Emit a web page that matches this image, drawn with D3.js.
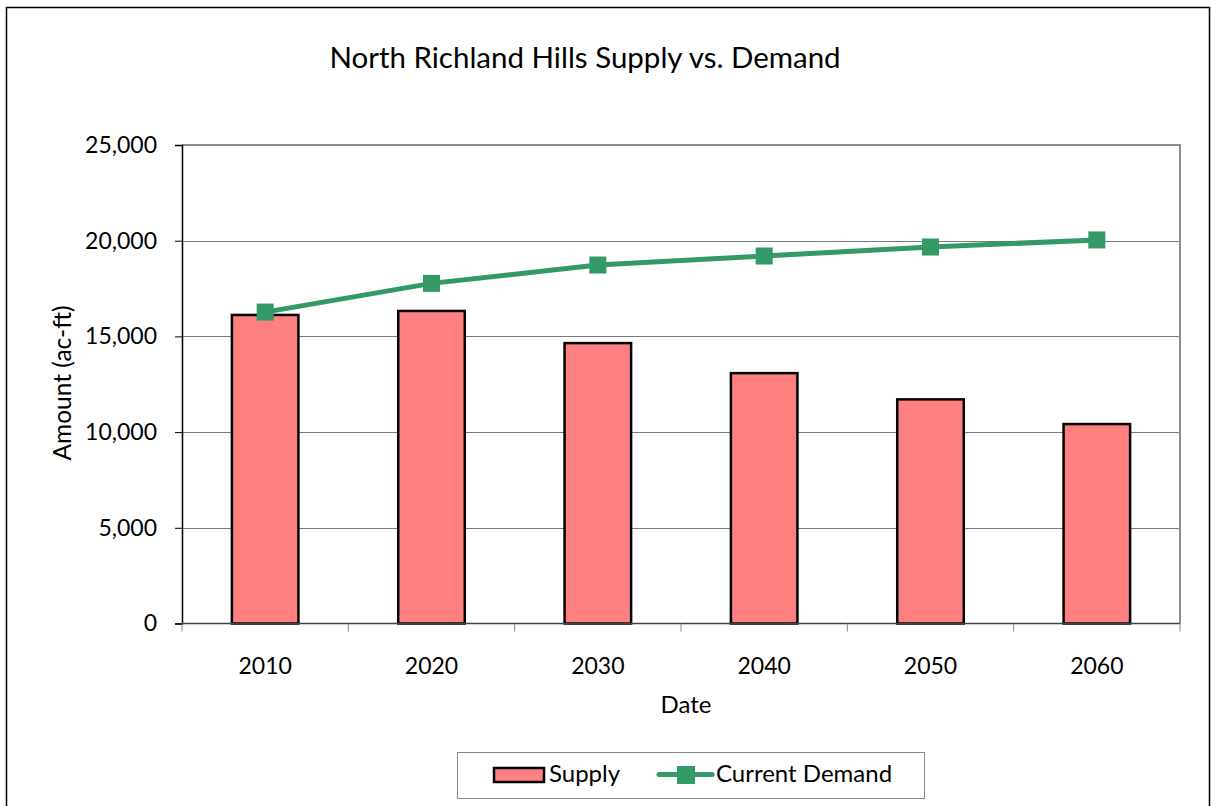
<!DOCTYPE html>
<html lang="en">
<head>
<meta charset="utf-8">
<style>
  body { margin: 0; background: #fff; }
  text { font-family: Lato, "Open Sans", sans-serif; fill: #000; }
</style>
</head>
<body>
<svg width="1211" height="806"></svg>
<script src="https://d3js.org/d3.v7.min.js"></script>
<script>
// values
var years = ["2010", "2020", "2030", "2040", "2050", "2060"];
var supply = [16120, 16330, 14650, 13080, 11710, 10420];
var demand = [16270, 17770, 18730, 19200, 19670, 20040];
var yTicks = [0, 5000, 10000, 15000, 20000, 25000];

var svg = d3.select("svg");
var margin = {left: 182, right: 1180, top: 145, bottom: 623.5};

// outer frame
svg.append("rect")
    .attr("x", 6.5).attr("y", 7.5)
    .attr("width", 1203).attr("height", 810)
    .attr("fill", "#fff").attr("stroke", "#000").attr("stroke-width", 1.5);

var x = d3.scaleBand().domain(years).range([margin.left, margin.right]).paddingInner(0).paddingOuter(0);
var y = d3.scaleLinear().domain([0, 25000]).range([margin.bottom, margin.top]);

// gridlines
svg.append("g").selectAll("line")
    .data(yTicks.slice(1, -1))
    .enter().append("line")
    .attr("x1", margin.left).attr("x2", margin.right)
    .attr("y1", function (d) { return Math.round(y(d)) + 0.5; })
    .attr("y2", function (d) { return Math.round(y(d)) + 0.5; })
    .attr("stroke", "#7a7a7a").attr("stroke-width", 1);

// plot border top/right
svg.append("path")
    .attr("d", "M" + margin.left + "," + margin.top + "H" + margin.right + "V" + margin.bottom)
    .attr("fill", "none").attr("stroke", "#8c8c8c").attr("stroke-width", 2);

// y axis
var yAxis = d3.axisLeft(y).tickValues(yTicks).tickSize(7).tickPadding(18)
    .tickFormat(d3.format(","));
var gy = svg.append("g").attr("transform", "translate(" + margin.left + ",0)").call(yAxis);
gy.select(".domain").attr("stroke", "#000").attr("stroke-width", 1.5);
gy.selectAll(".tick line").attr("stroke", "#000");
gy.selectAll("text").style("font-size", "23px");

// bars
var bw = x.bandwidth() * 0.4;
svg.append("g").selectAll("rect")
    .data(supply)
    .enter().append("rect")
    .attr("x", function (d, i) { return x(years[i]) + x.bandwidth() / 2 - bw / 2; })
    .attr("y", function (d) { return y(d); })
    .attr("width", bw)
    .attr("height", function (d) { return y(0) - y(d); })
    .attr("fill", "#ff8080").attr("stroke", "#000").attr("stroke-width", 2.5);

// x axis
var xAxis = d3.axisBottom(x).tickSize(0).tickPadding(34);
var gx = svg.append("g").attr("transform", "translate(0," + margin.bottom + ")").call(xAxis);
gx.select(".domain").remove();
gx.selectAll("text").style("font-size", "23px");
svg.append("line")
    .attr("x1", margin.left).attr("x2", margin.right)
    .attr("y1", margin.bottom).attr("y2", margin.bottom)
    .attr("stroke", "#444").attr("stroke-width", 1.5);
svg.append("g").selectAll("line")
    .data(years.concat(["end"]))
    .enter().append("line")
    .attr("x1", function (d, i) { return margin.left + i * x.step(); })
    .attr("x2", function (d, i) { return margin.left + i * x.step(); })
    .attr("y1", margin.bottom).attr("y2", margin.bottom + 8)
    .attr("stroke", "#888").attr("stroke-width", 1);

// demand line
var line = d3.line()
    .x(function (d, i) { return x(years[i]) + x.bandwidth() / 2; })
    .y(function (d) { return y(d); });
svg.append("path")
    .datum(demand)
    .attr("d", line)
    .attr("fill", "none").attr("stroke", "#339966").attr("stroke-width", 5);
svg.append("g").selectAll("rect")
    .data(demand)
    .enter().append("rect")
    .attr("x", function (d, i) { return x(years[i]) + x.bandwidth() / 2 - 8.5; })
    .attr("y", function (d) { return y(d) - 8.5; })
    .attr("width", 17).attr("height", 17)
    .attr("fill", "#339966");

// titles
svg.append("text")
    .attr("x", 585).attr("y", 68)
    .attr("text-anchor", "middle")
    .style("font-size", "29.5px")
    .text("North Richland Hills Supply vs. Demand");
svg.append("text")
    .attr("x", 686).attr("y", 713)
    .attr("text-anchor", "middle")
    .style("font-size", "24px")
    .text("Date");
svg.append("text")
    .attr("transform", "translate(71,383) rotate(-90)")
    .attr("text-anchor", "middle")
    .style("font-size", "24.5px")
    .text("Amount (ac-ft)");

// legend
var lg = svg.append("g");
lg.append("rect")
    .attr("x", 457.5).attr("y", 752.5).attr("width", 467).attr("height", 46)
    .attr("fill", "#fff").attr("stroke", "#888").attr("stroke-width", 1);
lg.append("rect")
    .attr("x", 494).attr("y", 768).attr("width", 50).attr("height", 14)
    .attr("fill", "#ff8080").attr("stroke", "#000").attr("stroke-width", 2.5);
lg.append("text")
    .attr("x", 549).attr("y", 782)
    .style("font-size", "24px")
    .text("Supply");
lg.append("line")
    .attr("x1", 659).attr("x2", 712).attr("y1", 774.5).attr("y2", 774.5)
    .attr("stroke", "#339966").attr("stroke-width", 5).attr("stroke-linecap", "round");
lg.append("rect")
    .attr("x", 677).attr("y", 766).attr("width", 18).attr("height", 18)
    .attr("fill", "#339966");
lg.append("text")
    .attr("x", 716).attr("y", 782)
    .style("font-size", "24px")
    .text("Current Demand");
</script>
</body>
</html>
